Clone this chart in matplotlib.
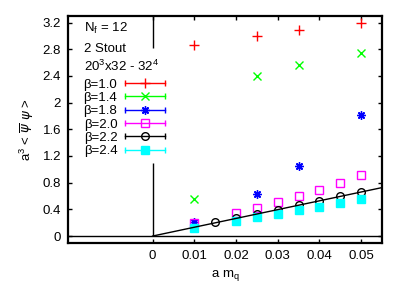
import matplotlib
matplotlib.use("Agg")
import matplotlib.pyplot as plt
import numpy as np
from matplotlib.lines import Line2D
from matplotlib.legend_handler import HandlerLine2D

# data
mq_10 = [0.01, 0.025, 0.035, 0.05]
chi_10 = [2.86, 3.00, 3.09, 3.19]
mq_14 = [0.01, 0.025, 0.035, 0.05]
chi_14 = [0.555, 2.40, 2.57, 2.75]
mq_18 = [0.01, 0.025, 0.035, 0.05]
chi_18 = [0.21, 0.63, 1.055, 1.81]
mq_20 = [0.01, 0.02, 0.025, 0.03, 0.035, 0.04, 0.045, 0.05]
chi_20 = [0.20, 0.34, 0.425, 0.505, 0.595, 0.69, 0.80, 0.92]
mq_22 = [0.015, 0.02, 0.025, 0.03, 0.035, 0.04, 0.045, 0.05]
chi_22 = [0.205, 0.27, 0.33, 0.395, 0.47, 0.53, 0.60, 0.665]
mq_24 = [0.01, 0.02, 0.025, 0.03, 0.035, 0.04, 0.045, 0.05]
chi_24 = [0.115, 0.225, 0.28, 0.33, 0.39, 0.44, 0.50, 0.55]

fit_slope = 13.2  # linear fit through origin for beta=2.2

series = [
    ("β=1.0", mq_10, chi_10, "#ff0000", "+", "none", 6.5),
    ("β=1.4", mq_14, chi_14, "#00ff00", "x", "none", 5.5),
    ("β=1.8", mq_18, chi_18, "#0000ff", (8, 2, 0), "none", 6.0),
    ("β=2.0", mq_20, chi_20, "#ff00ff", "s", "none", 6),
    ("β=2.2", mq_22, chi_22, "black", "o", "none", 5.5),
    ("β=2.4", mq_24, chi_24, "#00ffff", "s", "#00ffff", 5.5),
]

plt.rcParams["font.family"] = ["Liberation Sans", "DejaVu Sans"]
plt.rcParams["font.size"] = 9.5
fig = plt.figure(figsize=(4.05, 2.89), dpi=100)
ax = fig.add_axes([0.168, 0.159, 0.775, 0.786])

xmin, xmax = -0.0203, 0.055
ymin, ymax = -0.105, 3.30

handles = []
hmap = {}
for label, xs, ys, col, mk, fc, ms in series:
    ax.plot(xs, ys, linestyle="none", marker=mk, color=col, mfc=fc,
            ms=ms, mew=1.0)
    bar = Line2D([], [], color=col, lw=1.0, marker="|", ms=4, mew=1.0)
    pt = Line2D([], [], color=col, linestyle="none", marker=mk, mfc=fc,
                ms=ms, mew=1.0)
    hmap[bar] = HandlerLine2D(numpoints=2, marker_pad=0.0)
    hmap[pt] = HandlerLine2D(numpoints=1)
    handles.append((bar, pt))

# fit line
fx = np.array([0.0, xmax])
ax.plot(fx, fit_slope * fx, color="black", lw=1.0)

# zero axes
ax.axhline(0, color="black", lw=1.0)
ax.vlines(0, 0, 1.1, color="black", lw=1.0)
ax.vlines(0, 2.82, ymax, color="black", lw=1.0)

ax.set_xlim(xmin, xmax)
ax.set_ylim(ymin, ymax)
ax.set_xticks([0, 0.01, 0.02, 0.03, 0.04, 0.05])
ax.set_xticklabels(["0", "0.01", "0.02", "0.03", "0.04", "0.05"])
ax.set_yticks(np.arange(0, 3.3, 0.4))
ax.set_yticklabels(["0", "0.4", "0.8", "1.2", "1.6", "2", "2.4", "2.8", "3.2"])
ax.tick_params(direction="in", top=True, right=True, length=3, width=1.0,
               pad=5)
for s in ax.spines.values():
    s.set_linewidth(1.6)

ax.set_xlabel(r"a m$_\mathregular{q}$", labelpad=4)
ax.set_ylabel(r"a$^\mathregular{3}$ < $\overline{\psi}\ \psi$ >", labelpad=5)

ax.text(0.05, 0.93, r"N$_\mathregular{f}$ = 12", transform=ax.transAxes)
ax.text(0.05, 0.84, "2 Stout", transform=ax.transAxes)
ax.text(0.05, 0.757, r"20$^\mathregular{3}$x32 - 32$^\mathregular{4}$",
        transform=ax.transAxes)

leg = ax.legend(handles, [s[0] for s in series], handler_map=hmap,
                loc="upper left", bbox_to_anchor=(0.02, 0.765),
                frameon=False, markerfirst=False, handlelength=3.0,
                handletextpad=0.6, labelspacing=0.08, borderpad=0.2)

fig.savefig("out.png", dpi=100)
